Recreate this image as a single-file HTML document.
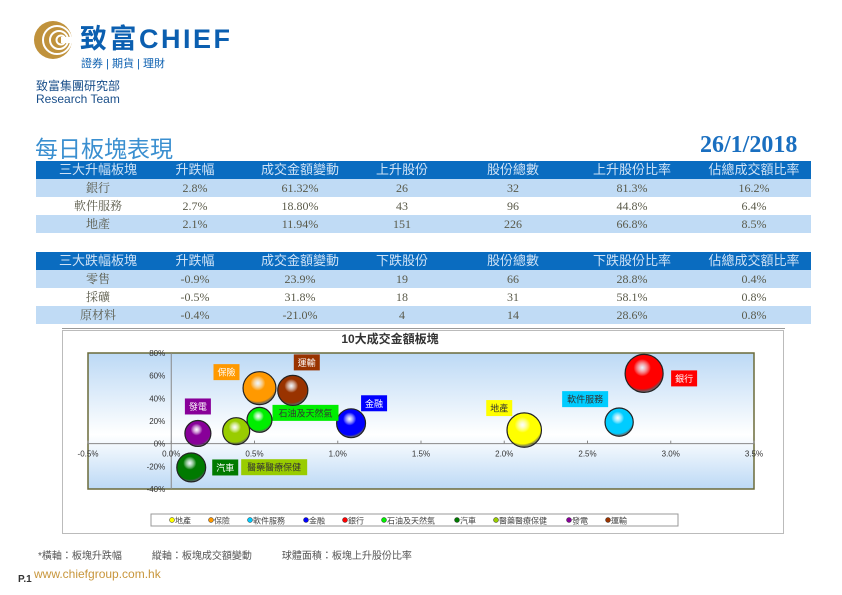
<!DOCTYPE html>
<html><head><meta charset="utf-8">
<style>
body{margin:0;width:842px;height:595px;background:#fff;position:relative;overflow:hidden;font-family:"Liberation Sans","Noto Sans CJK TC",sans-serif;}
.abs{position:absolute;white-space:nowrap;}
.row{position:absolute;left:36px;width:775px;height:18px;}
.hdr{background:#0a6cc0;color:#cfe2f5;}
.odd{background:#c0dbf5;}
.cell{position:absolute;top:0;height:18px;line-height:18px;font-size:12px;transform:translateX(-50%);white-space:nowrap;font-family:"Liberation Serif","Noto Serif CJK SC",serif;}
.row:not(.hdr) .cell{color:#5a5a4a;}
.hdr .cell{font-family:"Liberation Sans","Noto Sans CJK TC",sans-serif;font-size:13px;}
</style></head><body>
<svg class="abs" style="left:30px;top:18px" width="50" height="48">
<circle cx="23" cy="22" r="19" fill="#c0923c"/>
<circle cx="27" cy="22" r="14" fill="none" stroke="#fff" stroke-width="2"/>
<circle cx="29" cy="22" r="9" fill="none" stroke="#fff" stroke-width="2"/>
<circle cx="31" cy="22" r="4.5" fill="#c0923c" stroke="#fff" stroke-width="2"/>
<rect x="31" y="19" width="15" height="6" fill="#fff"/>
</svg>
<div class="abs" style="left:80px;top:17px;font-size:27px;font-weight:bold;color:#0b5fb0;letter-spacing:2.5px">致富CHIEF</div>
<div class="abs" style="left:81px;top:55px;font-size:11px;color:#0b5fb0">證券 | 期貨 | 理財</div>
<div class="abs" style="left:36px;top:77px;font-size:12px;color:#1a4f8a">致富集團研究部</div>
<div class="abs" style="left:36px;top:92px;font-size:12px;color:#1a4f8a">Research Team</div>
<div class="abs" style="left:35px;top:130px;font-size:23px;color:#3a8fd0">每日板塊表現</div>
<div class="abs" style="left:700px;top:132px;font-size:24px;font-weight:bold;color:#1a6fc0;font-family:'Liberation Serif',serif">26/1/2018</div>

<div id="tables"></div>
<div class="abs" style="left:62px;top:328px;width:723px;height:1px;background:#999"></div>

<div class="abs" style="left:62px;top:330px;width:720px;height:202px;border:1px solid #bbb"></div>
<svg id="chart" class="abs" style="left:0;top:0" width="842" height="595"></svg>

<div class="abs" style="left:38px;top:547px;font-size:10px;color:#555">*橫軸：板塊升跌幅　　　縱軸：板塊成交額變動　　　球體面積：板塊上升股份比率</div>
<div class="abs" style="left:18px;top:574px;font-size:10px;font-weight:bold;color:#333">P.1</div>
<div class="abs" style="left:34px;top:567px;font-size:12px;color:#c8963c">www.chiefgroup.com.hk</div>

<script>
const colX=[98,195,300,402,513,632,754];
const t1Head=["三大升幅板塊","升跌幅","成交金額變動","上升股份","股份總數","上升股份比率","佔總成交額比率"];
const t1Rows=[["銀行","2.8%","61.32%","26","32","81.3%","16.2%"],["軟件服務","2.7%","18.80%","43","96","44.8%","6.4%"],["地產","2.1%","11.94%","151","226","66.8%","8.5%"]];
const t2Head=["三大跌幅板塊","升跌幅","成交金額變動","下跌股份","股份總數","下跌股份比率","佔總成交額比率"];
const t2Rows=[["零售","-0.9%","23.9%","19","66","28.8%","0.4%"],["採礦","-0.5%","31.8%","18","31","58.1%","0.8%"],["原材料","-0.4%","-21.0%","4","14","28.6%","0.8%"]];
const tb=document.getElementById('tables');
function mkRow(cells,top,cls,name){
  const r=document.createElement('div');
  r.className='row '+cls;r.style.top=top+'px';
  
  
  cells.forEach((c,i)=>{const d=document.createElement('div');d.className='cell';d.style.left=(colX[i]-36)+'px';d.textContent=c;r.appendChild(d);});
  tb.appendChild(r);
}
mkRow(t1Head,161,'hdr','top-gainers-header');
t1Rows.forEach((r,i)=>mkRow(r,179+i*18,i%2==0?'odd':'','top-gainer-row'));
mkRow(t2Head,252,'hdr','top-losers-header');
t2Rows.forEach((r,i)=>mkRow(r,270+i*18,i%2==0?'odd':'','top-loser-row'));

const names=["地產","保險","軟件服務","金融","銀行","石油及天然氣","汽車","醫藥醫療保健","發電","運輸"];
const xVals=[2.12,0.53,2.69,1.08,2.84,0.53,0.12,0.39,0.16,0.73];
const yVals=[12,49,19,18,62,21,-21,11,9,47];
const sizeVals=[66.8,61,44.8,47,81.3,35,47,41,38,51];
const colors=["#ffff00","#ff9900","#00ccff","#0000ff","#ff0000","#00ee00","#007a00","#99cc00","#880099","#993300"];
const labelDx=[-25,-33,-34,23,40,46,34,38,0,14];
const labelDy=[-22,-16,-23,-20,5,-7,0,36,-27,-28];
const xTicks=[-0.5,0,0.5,1,1.5,2,2.5,3,3.5];
const yTicks=[80,60,40,20,0,-20,-40];

const L=88,R=754,T=353,B=489;
const xs=v=>L+(v+0.5)/4*(R-L);
const ys=v=>T+(80-v)/120*(B-T);
const rs=v=>2.107*Math.sqrt(v);
const NS='http://www.w3.org/2000/svg';
const svg=document.getElementById('chart');
function el(tag,attrs,parent){const e=document.createElementNS(NS,tag);for(const k in attrs)e.setAttribute(k,attrs[k]);(parent||svg).appendChild(e);return e;}
const defs=el('defs',{});
const bg=el('linearGradient',{id:'bg',x1:0,y1:0,x2:0,y2:1},defs);
el('stop',{offset:0,'stop-color':'#bcd9f5'},bg);el('stop',{offset:0.6,'stop-color':'#ffffff'},bg);el('stop',{offset:1,'stop-color':'#bcd9f5'},bg);
colors.forEach((c,i)=>{const g=el('radialGradient',{id:'g'+i,cx:0.45,cy:0.35,r:0.65},defs);
 el('stop',{offset:0,'stop-color':'#ffffff','stop-opacity':0.6},g);el('stop',{offset:0.35,'stop-color':c},g);el('stop',{offset:0.85,'stop-color':c},g);el('stop',{offset:1,'stop-color':'#000','stop-opacity':0.5},g);});

const title=el('text',{x:390,y:343,'text-anchor':'middle','font-size':12,'font-weight':'bold',fill:'#333'});


title.textContent='10大成交金額板塊';
const pa=el('rect',{x:L,y:T,width:R-L,height:B-T,fill:'url(#bg)',stroke:'#6b6b3a','stroke-width':1.5});


el('line',{x1:L,x2:R,y1:ys(0),y2:ys(0),stroke:'#888'});
el('line',{x1:xs(0),x2:xs(0),y1:T,y2:B,stroke:'#888'});
xTicks.forEach(v=>{const t=el('text',{x:xs(v),y:ys(0)+13,'text-anchor':'middle','font-size':8,fill:'#333'});
 
 
 t.textContent=v.toFixed(1)+'%';
 el('line',{x1:xs(v),x2:xs(v),y1:ys(0),y2:ys(0)-3,stroke:'#888'});});
yTicks.forEach(v=>{const t=el('text',{x:xs(0)-6,y:ys(v)+3,'text-anchor':'end','font-size':8,fill:'#333'});
 
 
 t.textContent=v+'%';});
names.forEach((n,i)=>{
 const cx=xs(xVals[i]),cy=ys(yVals[i]);
 const c=el('circle',{cx:cx,cy:cy,r:rs(sizeVals[i]),fill:'url(#g'+i+')',stroke:'#222','stroke-width':1.2});
 
 
 const w=n.length*10+6, lx=cx+labelDx[i], ly=cy+labelDy[i];
 el('rect',{x:lx-w/2,y:ly-8,width:w,height:16,fill:colors[i]});
 const t=el('text',{x:lx,y:ly+3.5,'text-anchor':'middle','font-size':9,fill:(i==0||i==2||i==5||i==7)?'#333':'#fff'});
 
 
 t.textContent=n;
});
const lg=el('rect',{x:151,y:514,width:527,height:12,fill:'#fff',stroke:'#999'});


let lx=172;
names.forEach((n,i)=>{
 el('circle',{cx:lx,cy:520,r:2.5,fill:colors[i],stroke:'#333','stroke-width':0.5});
 const t=el('text',{x:lx+3,y:523.5,'font-size':8,fill:'#444'});
 
 
 t.textContent=n;
 lx+=n.length*8.5+22;
});
</script>
</body></html>
